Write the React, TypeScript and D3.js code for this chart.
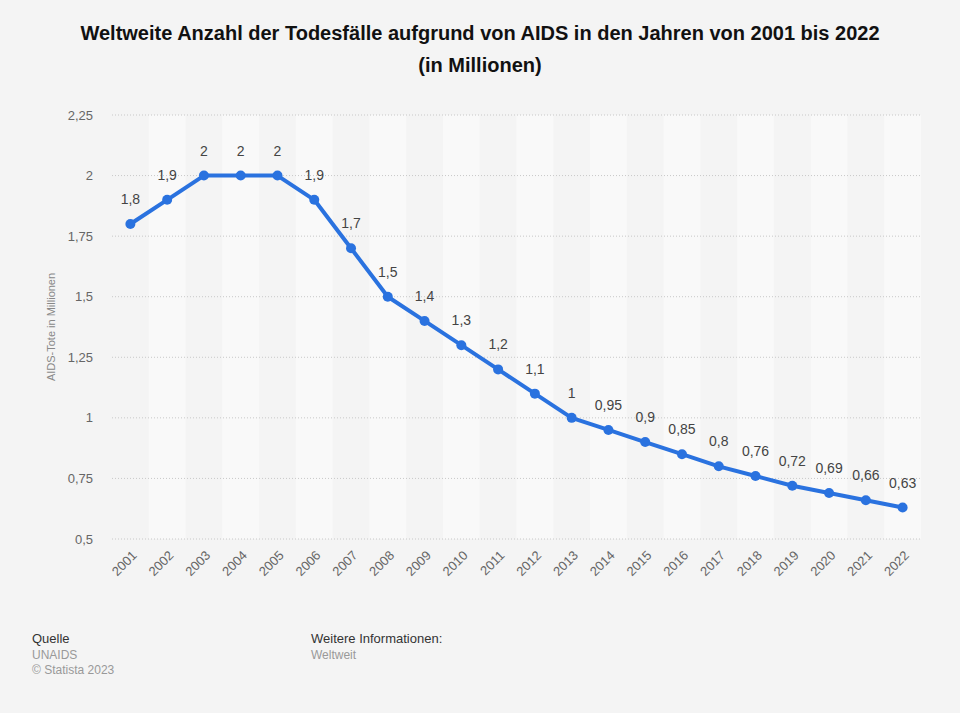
import React from "react";
import * as d3 from "d3";

const years = ["2001","2002","2003","2004","2005","2006","2007","2008","2009","2010","2011","2012","2013","2014","2015","2016","2017","2018","2019","2020","2021","2022"];
const deaths = [1.8,1.9,2,2,2,1.9,1.7,1.5,1.4,1.3,1.2,1.1,1,0.95,0.9,0.85,0.8,0.76,0.72,0.69,0.66,0.63];
const yTicks = [0.5,0.75,1,1.25,1.5,1.75,2,2.25];

const W = 960, H = 713;
const left = 112, right = 921, top = 115, bottom = 539;
const font = "'Liberation Sans', Arial, Helvetica, sans-serif";
const fmt = (v: number) => String(v).replace(".", ",");

export default function App() {
  const x = d3.scaleBand<string>().domain(years).range([left, right]).padding(0);
  const y = d3.scaleLinear().domain([0.5, 2.25]).range([bottom, top]);
  const cx = (yr: string) => (x(yr) as number) + x.bandwidth() / 2;
  const line = d3.line<number>().x((_, i) => cx(years[i])).y(d => y(d));

  return (
    <div style={{ position: "absolute", left: 0, top: 0 }}>
      <svg width={W} height={H} style={{ display: "block", fontFamily: font }}>
        <rect width={W} height={H} fill="#f4f4f4" />
        {years.map((yr, i) => i % 2 === 1 ? (
          <rect key={yr} x={x(yr)} y={top} width={x.bandwidth()} height={bottom - top} fill="#f9f9f9" />
        ) : null)}
        {yTicks.map(t => (
          <g key={t}>
            <line x1={left} x2={right} y1={y(t)} y2={y(t)} stroke="#c8c8c8" strokeWidth={1} strokeDasharray="1,2" />
            <text x={93} y={y(t)} dy="0.35em" textAnchor="end" fontSize={13} fill="#666">{fmt(t)}</text>
          </g>
        ))}
        {years.map(yr => (
          <text key={yr} transform={`translate(${cx(yr) + 4},${553}) rotate(-45)`} textAnchor="end" dy="0.35em" fontSize={13} fill="#666">{yr}</text>
        ))}
        <text transform={`translate(55,${(top + bottom) / 2}) rotate(-90)`} textAnchor="middle" fontSize={11} fill="#888">AIDS-Tote in Millionen</text>
        <path d={line(deaths) || ""} fill="none" stroke="#2a72df" strokeWidth={4} strokeLinejoin="round" />
        {deaths.map((d, i) => (
          <g key={i}>
            <circle cx={cx(years[i])} cy={y(d)} r={5} fill="#2a72df" />
            <text x={cx(years[i])} y={y(d) - 20} textAnchor="middle" fontSize={14} fill="#444">{fmt(d)}</text>
          </g>
        ))}
        <text x={480} y={40} textAnchor="middle" fontSize={20} fontWeight="bold" fill="#111">Weltweite Anzahl der Todesfälle aufgrund von AIDS in den Jahren von 2001 bis 2022</text>
        <text x={480} y={72} textAnchor="middle" fontSize={20} fontWeight="bold" fill="#111">(in Millionen)</text>
        <text x={32} y={643} fontSize={13} fill="#333">Quelle</text>
        <text x={32} y={659} fontSize={12} fill="#999">UNAIDS</text>
        <text x={32} y={674} fontSize={12} fill="#999">© Statista 2023</text>
        <text x={311} y={643} fontSize={13} fill="#333">Weitere Informationen:</text>
        <text x={311} y={659} fontSize={12} fill="#999">Weltweit</text>
      </svg>
    </div>
  );
}
